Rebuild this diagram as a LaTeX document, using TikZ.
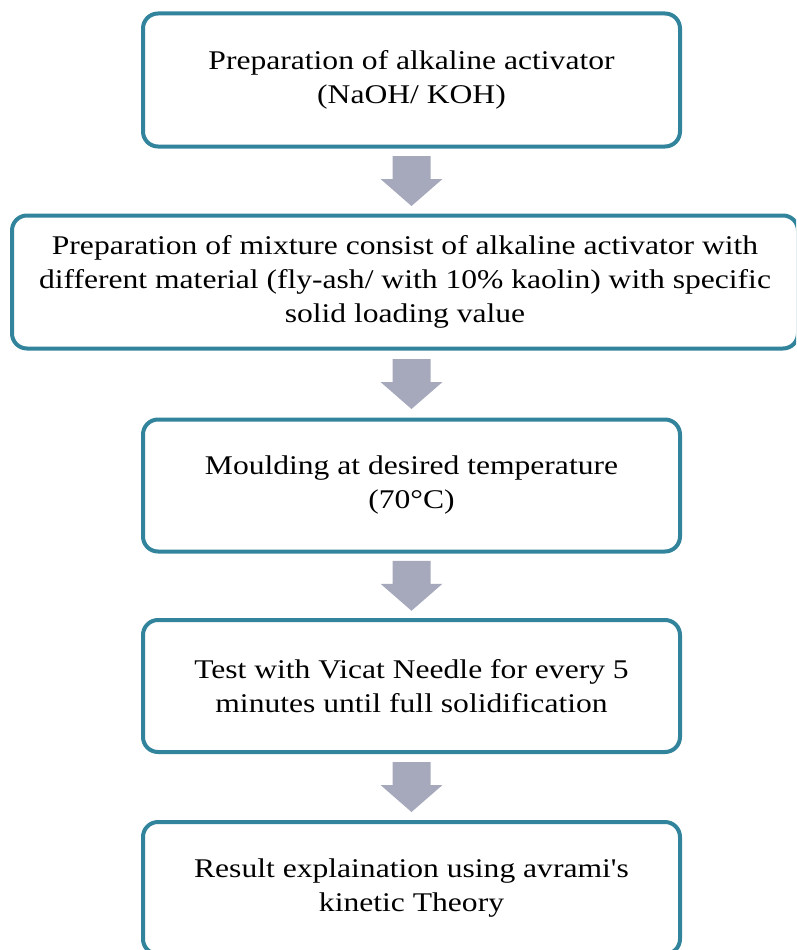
\documentclass[tikz,border=0pt]{standalone}
\usepackage{fontspec}
\setmainfont{Liberation Serif}[Ligatures=TeXOff, FakeStretch=1.17]
\usetikzlibrary{calc}
\definecolor{tealborder}{RGB}{49,132,155}
\definecolor{arrowgray}{RGB}{166,169,188}
\begin{document}
\begin{tikzpicture}[x=1pt,y=-1pt,
  stepbox/.style={draw=tealborder, line width=4pt, rounded corners=15pt, fill=white,
    align=center, inner sep=0pt, font=\fontsize{27}{34}\selectfont},
  downarr/.pic={\fill[arrowgray] (-19,-25) -- (19,-25) -- (19,-2) -- (31,-2) -- (0,25) -- (-31,-2) -- (-19,-2) -- cycle;}]
\useasboundingbox (0,0) rectangle (796,950);
\clip (0,0) rectangle (796,950);
\node[stepbox, minimum width=537pt, minimum height=133pt] (b1) at (411.5,80)
  {Preparation of alkaline activator\\(NaOH/ KOH)};
\node[stepbox, minimum width=786pt, minimum height=133pt] (b2) at (405,282)
  {Preparation of mixture consist of alkaline activator with\\different material (fly-ash/ with 10\% kaolin) with specific\\solid loading value};
\node[stepbox, minimum width=537pt, minimum height=132pt] (b3) at (411.5,485.5)
  {Moulding at desired temperature\\(70°C)};
\node[stepbox, minimum width=537pt, minimum height=132pt] (b4) at (411.5,686)
  {Test with Vicat Needle for every 5\\minutes until full solidification};
\node[stepbox, minimum width=537pt, minimum height=132pt] (b5) at (411.5,888)
  {Result explaination using avrami's\\kinetic Theory};
\coordinate (a1) at ($(b1.south)!0.5!(b1.south |- b2.north)$);
\coordinate (a2) at ($(b2.south -| b1.south)!0.5!(b3.north)$);
\coordinate (a3) at ($(b3.south)!0.5!(b4.north)$);
\coordinate (a4) at ($(b4.south)!0.5!(b5.north)$);
\foreach \c in {a1,a2,a3,a4} \pic at (\c) {downarr};
\end{tikzpicture}
\end{document}
